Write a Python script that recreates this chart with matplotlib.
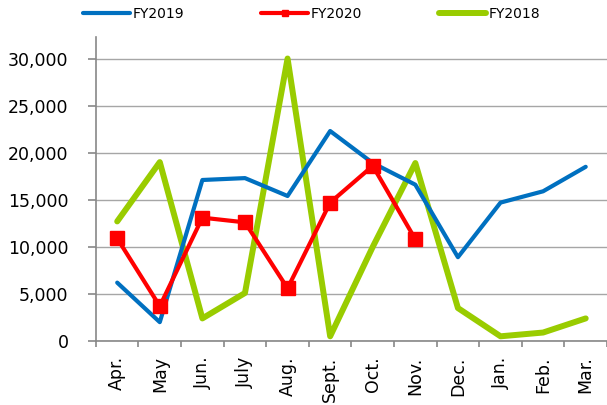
import numpy as np
import matplotlib.pyplot as plt
from matplotlib.ticker import FuncFormatter

plt.rcParams['font.family'] = ['DejaVu Sans']

months = ['Apr.', 'May', 'Jun.', 'July', 'Aug.', 'Sept.', 'Oct.', 'Nov.',
          'Dec.', 'Jan.', 'Feb.', 'Mar.']
fy2019 = [6200, 2000, 17100, 17300, 15400, 22300, 18900, 16600, 8900, 14700, 15900, 18500]
fy2020 = [10900, 3700, 13100, 12600, 5600, 14700, 18600, 10800]
fy2018 = [12700, 19000, 2400, 5100, 30000, 500, 10000, 18900, 3500, 500, 900, 2400]

fig = plt.figure(figsize=(6.07, 4.05), dpi=100)
ax = fig.add_axes([0.158, 0.158, 0.842, 0.751])

x = np.arange(len(months))
ax.plot(x, fy2019, color='#0070C0', lw=3.0, label='FY2019', zorder=3,
        solid_capstyle='round', solid_joinstyle='round')
ax.plot(x[:len(fy2020)], fy2020, color='#FF0000', lw=3.0, marker='s', ms=10,
        label='FY2020', zorder=4, solid_capstyle='round', solid_joinstyle='round')
ax.plot(x, fy2018, color='#99CC00', lw=4.3, label='FY2018', zorder=2,
        solid_capstyle='round', solid_joinstyle='round')

ax.set_xlim(-0.5, 11.5)
ax.set_ylim(0, 32300)
ax.set_yticks(np.arange(0, 30001, 5000))
ax.yaxis.set_major_formatter(FuncFormatter(lambda v, p: f'{int(v):,}'))
ax.grid(axis='y', color='#A6A6A6', lw=1)
ax.set_axisbelow(True)

ax.set_xticks(x)
ax.set_xticklabels(months, rotation=90, fontsize=12.5)
ax.set_xticks(np.arange(-0.5, 11.6, 1), minor=True)
ax.tick_params(axis='x', which='major', length=0, pad=11)
ax.tick_params(axis='x', which='minor', length=4, color='#888888', width=1.2)
ax.tick_params(axis='y', length=5.8, color='#888888', width=1.2, labelsize=12.5, pad=14)

for s in ['top', 'right']:
    ax.spines[s].set_visible(False)
for s in ['left', 'bottom']:
    ax.spines[s].set_color('#888888')
    ax.spines[s].set_linewidth(1.2)

fig.legend(loc='upper left', bbox_to_anchor=(83 / 607, 1 - 7 / 405), ncol=3,
           frameon=False, borderpad=0, borderaxespad=0,
           fontsize=10, handlelength=3.4, handletextpad=0.2, columnspacing=5.5,
           markerscale=0.4)

plt.savefig('out.png', dpi=100)
